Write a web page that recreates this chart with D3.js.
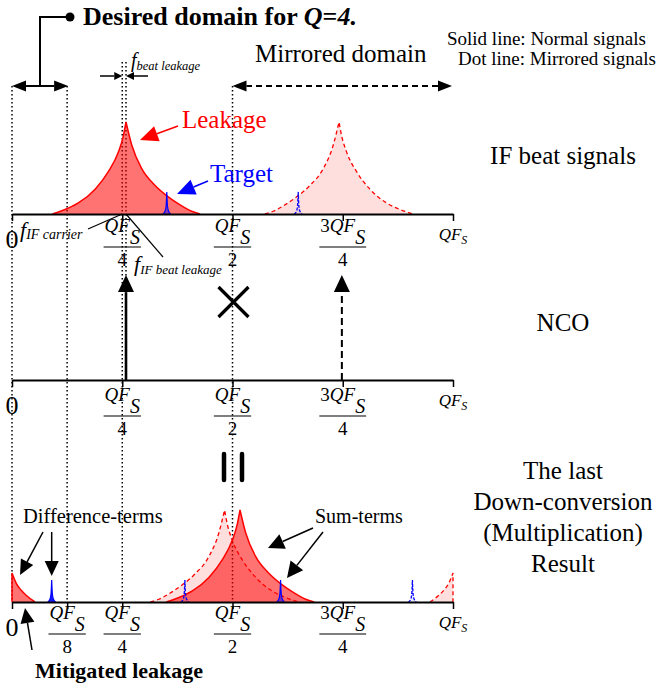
<!DOCTYPE html>
<html>
<head>
<meta charset="utf-8">
<script src="https://cdn.jsdelivr.net/npm/d3@7"></script>
<style>
body { margin: 0; background: #fff; }
svg text { font-family: "Liberation Serif", "Times New Roman", serif; }
</style>
</head>
<body>
<svg id="chart" width="661" height="688"></svg>
<script>
// IF beat -> NCO -> last down-conversion sketch

// leakage cusp shape: offset from centre (QF_S units) and amplitude
var leakOffset = [-0.167, -0.133, -0.108, -0.070, -0.040, -0.0175, -0.006, 0, 0.013, 0.036, 0.066, 0.092, 0.119, 0.149, 0.168];
var leakAmp    = [0, 0.06, 0.12, 0.27, 0.46, 0.67, 0.85, 1, 0.75, 0.49, 0.31, 0.20, 0.11, 0.03, 0];

// what is left of the leakage after the down-conversion (one-sided)
var residOffset = [0, 0.010, 0.021, 0.032, 0.052];
var residAmp    = [0.315, 0.20, 0.127, 0.073, 0];

// target spike
var spikeOffset = [-0.009, -0.004, -0.0015, 0, 0.0015, 0.004, 0.009];
var spikeAmp    = [0, 0.03, 0.09, 0.24, 0.09, 0.03, 0];

// centres: [normal, mirrored]
var ifLeakCentres      = [0.2585, 0.7415];
var ifTargetCentres    = [0.351, 0.649];
var ncoCentres         = [0.2585, 0.748];
var ncoAmp             = [1.14, 1.14];
var ncoBlocked         = [0.5];
var sumLeakCentres     = [0.517, 0.482];
var sumTargetCentres   = [0.609, 0.392];
var diffLeakCentres    = [0, 1];
var diffTargetCentres  = [0.09, 0.908];

// tick labels
var tickValues    = [0, 0.125, 0.25, 0.5, 0.75, 1];
var tickNumPrefix = ["", "", "", "", "3", ""];
var tickDen       = ["", "8", "4", "2", "4", ""];
var panelTicks = [[0, 0.25, 0.5, 0.75, 1], [0, 0.25, 0.5, 0.75, 1], [0, 0.125, 0.25, 0.5, 0.75, 1]];

var svg = d3.select("#chart");
var red = "#ff0000", blue = "#0000ff";

var x = d3.scaleLinear().domain([0, 1]).range([12, 453]);
var baselines = [214, 380, 602];
function yScale(b) { return d3.scaleLinear().domain([0, 1]).range([b, b - 92]); }
var yIF = yScale(baselines[0]), yNCO = yScale(baselines[1]), yRes = yScale(baselines[2]);

function arrow(g, x1, y1, x2, y2, o) {
    o = o || {};
    var col = o.color || "#000", len = o.len || 14, hw = o.hw || 6;
    var a = Math.atan2(y2 - y1, x2 - x1);
    var bx = x2 - len * Math.cos(a), by = y2 - len * Math.sin(a);
    g.append("line")
        .attr("x1", x1).attr("y1", y1).attr("x2", bx).attr("y2", by)
        .attr("stroke", col).attr("stroke-width", o.width || 1.5)
        .attr("stroke-dasharray", o.dash || null);
    var px = -Math.sin(a) * hw, py = Math.cos(a) * hw;
    g.append("path")
        .attr("d", "M" + x2 + "," + y2 + "L" + (bx + px) + "," + (by + py) + "L" + (bx - px) + "," + (by - py) + "Z")
        .attr("fill", col);
}

// dotted guides
var guides = svg.append("g").attr("stroke", "#000").attr("stroke-width", 1.5).attr("stroke-dasharray", "1.5,2.5");
[[0, 86, 602], [0.125, 86, 602], [0.25, 62, 602], [0.2585, 62, 380], [0.5, 86, 602]].forEach(function(d) {
    guides.append("line").attr("x1", x(d[0])).attr("x2", x(d[0])).attr("y1", d[1]).attr("y2", d[2]);
});

// cusp path, split at the peak so the top stays sharp
var mono = d3.line().x(function(d) { return d[0]; }).y(function(d) { return d[1]; }).curve(d3.curveMonotoneX);
function cuspPath(centre, offs, amps, ys, flip) {
    var pts = offs.map(function(o, i) { return [x(centre + (flip ? -o : o)), ys(amps[i])]; });
    pts.sort(function(a, b) { return a[0] - b[0]; });
    var k = d3.minIndex(pts, function(p) { return p[1]; });
    var left = pts.slice(0, k + 1), right = pts.slice(k);
    if (left.length < 2) left.unshift([left[0][0], ys(0)]);
    if (right.length < 2) right.push([right[0][0], ys(0)]);
    return mono(left) + mono(right).replace(/^M/, "L");
}

var fills = svg.append("g"), strokes = svg.append("g");
function signal(centre, offs, amps, ys, mirrored, colour, fillOp, width, dash) {
    var d = cuspPath(centre, offs, amps, ys, mirrored);
    fills.append("path").attr("d", d + "Z").attr("fill", colour).attr("fill-opacity", fillOp);
    strokes.append("path").attr("d", d).attr("fill", "none").attr("stroke", colour)
        .attr("stroke-width", width).attr("stroke-dasharray", dash || null);
}
function leakPair(centres, offs, amps, ys) {
    signal(centres[1], offs, amps, ys, true, red, 0.13, 1.3, "4,3");
    signal(centres[0], offs, amps, ys, false, red, 0.55, 1.5);
}
function targetPair(centres, ys, solidOp) {
    signal(centres[1], spikeOffset, spikeAmp, ys, true, blue, 0.08, 1.3, "3,1.5");
    signal(centres[0], spikeOffset, spikeAmp, ys, false, blue, solidOp, 1.2);
}

// panel 1: IF beat signals
leakPair(ifLeakCentres, leakOffset, leakAmp, yIF);
// panel 3: result
leakPair(sumLeakCentres, leakOffset, leakAmp, yRes);
leakPair(diffLeakCentres, residOffset, residAmp, yRes);
targetPair(ifTargetCentres, yIF, 0.5);
targetPair(sumTargetCentres, yRes, 0.5);
targetPair(diffTargetCentres, yRes, 0.9);

// axes
function tickLabels(b, ticks, shift) {
    ticks.forEach(function(v) {
        var i = tickValues.indexOf(v), cx = x(v);
        if (v === 0) {
            svg.append("text").attr("x", cx).attr("y", b + 34).attr("text-anchor", "middle")
                .attr("font-size", 26).text("0");
            return;
        }
        if (v === 1) {
            var t = svg.append("text").attr("x", cx).attr("y", b + 26).attr("text-anchor", "middle")
                .attr("font-style", "italic").attr("font-size", 17);
            t.append("tspan").text("QF");
            t.append("tspan").attr("font-size", 12).attr("dy", 4).text("S");
            return;
        }
        var num = svg.append("text").attr("x", cx).attr("y", b + 20 + shift)
            .attr("text-anchor", "middle").attr("font-size", 19);
        if (tickNumPrefix[i]) num.append("tspan").text(tickNumPrefix[i]);
        num.append("tspan").attr("font-style", "italic").text("QF");
        num.append("tspan").attr("font-style", "italic").attr("font-size", 20).attr("dy", 12).text("S");
        var w = num.node().getBBox().width;
        svg.append("line").attr("x1", cx - w / 2 - 1).attr("x2", cx + w / 2 + 1)
            .attr("y1", b + 35 + shift).attr("y2", b + 35 + shift)
            .attr("stroke", "#000").attr("stroke-width", 1.2);
        svg.append("text").attr("x", cx).attr("y", b + 54 + shift).attr("text-anchor", "middle")
            .attr("font-size", 19).text(tickDen[i]);
    });
}
baselines.forEach(function(b, p) {
    var ax = d3.axisBottom(x).tickValues(panelTicks[p]).tickSize(7).tickSizeOuter(0).tickFormat("");
    var g = svg.append("g").attr("transform", "translate(0," + b + ")").call(ax);
    g.select(".domain").attr("stroke-width", 2);
    g.selectAll(".tick line").attr("stroke-width", 1.5);
    tickLabels(b, panelTicks[p], [-2, 1, -3][p]);
});

// panel 2: NCO
var nco = svg.append("g");
arrow(nco, x(ncoCentres[0]), yNCO(0), x(ncoCentres[0]), yNCO(ncoAmp[0]), {len: 17, hw: 8, width: 2.6});
arrow(nco, x(ncoCentres[1]), yNCO(0), x(ncoCentres[1]), yNCO(ncoAmp[1]), {len: 17, hw: 8, width: 2, dash: "7,4"});
ncoBlocked.forEach(function(f) {
    var cx = x(f) + 1, cy = baselines[1] - 78, s = 15;
    nco.append("path").attr("d", "M" + (cx - s) + "," + (cy - s) + "L" + (cx + s) + "," + (cy + s) +
        "M" + (cx + s) + "," + (cy - s) + "L" + (cx - s) + "," + (cy + s))
        .attr("stroke", "#000").attr("stroke-width", 3.2);
});

// equals sign between NCO and result
[224, 242].forEach(function(px) {
    svg.append("line").attr("x1", px).attr("x2", px).attr("y1", 454).attr("y2", 480)
        .attr("stroke", "#000").attr("stroke-width", 4.5).attr("stroke-linecap", "round");
});

// top annotations
var ann = svg.append("g");
var title = ann.append("text").attr("x", 83).attr("y", 25).attr("font-size", 26).attr("font-weight", "bold");
title.append("tspan").text("Desired domain for ");
title.append("tspan").attr("font-style", "italic").text("Q");
title.append("tspan").text("=");
title.append("tspan").attr("font-style", "italic").text("4.");
ann.append("circle").attr("cx", 70).attr("cy", 17).attr("r", 4.5).attr("fill", "#000");
ann.append("path").attr("d", "M70,17H40V86").attr("fill", "none").attr("stroke", "#000").attr("stroke-width", 2);
arrow(ann, 40, 86, x(0), 86, {len: 14, hw: 5.5, width: 2});
arrow(ann, 40, 86, x(0.125) + 1, 86, {len: 14, hw: 5.5, width: 2});

ann.append("text").attr("x", 255).attr("y", 62).attr("font-size", 25).text("Mirrored domain");
arrow(ann, 342, 86, x(0.5), 86, {len: 14, hw: 5.5, width: 2, dash: "6,4"});
arrow(ann, 342, 86, 452, 86, {len: 14, hw: 5.5, width: 2, dash: "6,4"});

ann.append("text").attr("x", 447).attr("y", 45).attr("font-size", 19).text("Solid line: Normal signals");
ann.append("text").attr("x", 458).attr("y", 65).attr("font-size", 19).text("Dot line: Mirrored signals");

arrow(ann, 100, 76, x(0.25), 76, {len: 8, hw: 4, width: 1.5});
arrow(ann, 148, 76, x(0.2585), 76, {len: 8, hw: 4, width: 1.5});
var fb = ann.append("text").attr("x", 131).attr("y", 67).attr("font-style", "italic").attr("font-size", 20);
fb.append("tspan").text("f");
fb.append("tspan").attr("font-size", 12.5).attr("dy", 3).text("beat leakage");

ann.append("text").attr("x", 182).attr("y", 128).attr("font-size", 25).attr("fill", red).text("Leakage");
arrow(ann, 178, 126, 140, 140, {color: red, len: 18, hw: 8, width: 1.5});
ann.append("text").attr("x", 210).attr("y", 182).attr("font-size", 25).attr("fill", blue).text("Target");
arrow(ann, 208, 181, 177, 194, {color: blue, len: 18, hw: 8, width: 1.5});

var fc = ann.append("text").attr("x", 20).attr("y", 237).attr("font-style", "italic").attr("font-size", 22);
fc.append("tspan").text("f");
fc.append("tspan").attr("font-size", 14).attr("dy", 2).text("IF carrier");
ann.append("line").attr("x1", 88).attr("y1", 229).attr("x2", x(0.25)).attr("y2", baselines[0]).attr("stroke", "#000").attr("stroke-width", 1.2);
var fl = ann.append("text").attr("x", 134).attr("y", 271).attr("font-style", "italic").attr("font-size", 22);
fl.append("tspan").text("f");
fl.append("tspan").attr("font-size", 13).attr("dy", 3).text("IF beat leakage");
ann.append("line").attr("x1", x(0.2585)).attr("y1", baselines[0]).attr("x2", 163).attr("y2", 257).attr("stroke", "#000").attr("stroke-width", 1.2);

// bottom annotations
ann.append("text").attr("x", 23).attr("y", 523).attr("font-size", 20.5).text("Difference-terms");
arrow(ann, 43, 532, 20, 575, {len: 15, hw: 7});
arrow(ann, x(diffTargetCentres[0]), 532, x(diffTargetCentres[0]), 576, {len: 15, hw: 7});
ann.append("text").attr("x", 35).attr("y", 678).attr("font-size", 22).attr("font-weight", "bold").text("Mitigated leakage");
arrow(ann, 32, 650, 25, 608, {len: 15, hw: 7});
ann.append("text").attr("x", 315).attr("y", 523).attr("font-size", 20).text("Sum-terms");
arrow(ann, 313, 528, 268, 548, {len: 16, hw: 8});
arrow(ann, 323, 532, 287, 578, {len: 16, hw: 8});

// stage names
function stage(lines, y0) {
    lines.forEach(function(s, i) {
        ann.append("text").attr("x", 563).attr("y", y0 + i * 31).attr("text-anchor", "middle")
            .attr("font-size", 25).text(s);
    });
}
stage(["IF beat signals"], 164);
stage(["NCO"], 331);
stage(["The last", "Down-conversion", "(Multiplication)", "Result"], 479);
</script>
</body>
</html>
